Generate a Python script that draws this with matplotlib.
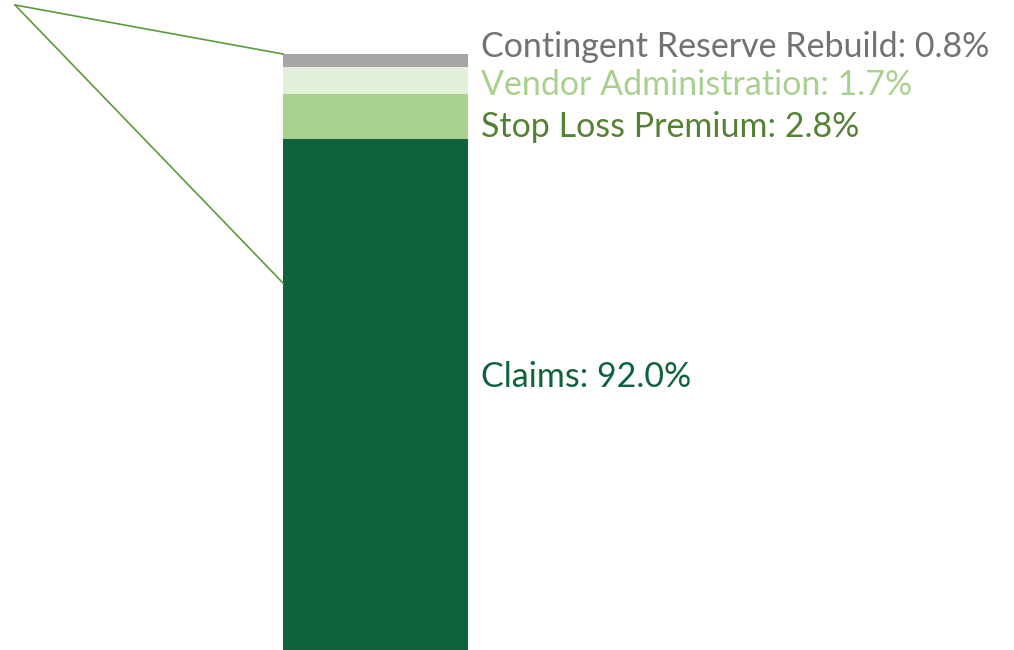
import matplotlib
matplotlib.use("Agg")
import matplotlib.pyplot as plt

categories = ["Claims", "Stop Loss Premium", "Vendor Administration", "Contingent Reserve Rebuild"]
values = [92.0, 2.8, 1.7, 0.8]
bar_colors = ["#0E623C", "#A9D18E", "#E2EFDA", "#A5A5A5"]
text_colors = ["#0E623C", "#548235", "#A9D18E", "#757171"]
label_y = [77.1, 92.74, 95.36, 97.74]  # label anchor positions (layout)

plt.rcParams['font.family'] = ['Lato', 'DejaVu Sans']

fig = plt.figure(figsize=(10.14, 6.5), dpi=100)
ax = fig.add_axes([0, 0, 1, 1])

total = sum(values)
px_per_pct = 16.0
top = total + 54 / px_per_pct
ax.set_ylim(top - 650 / px_per_pct, top)
ax.set_xlim(0, 1014)

bar_x = 375.5
bar_w = 185
bottom = 0
for cat, v, c in zip(categories, values, bar_colors):
    ax.bar(bar_x, v, bottom=bottom, width=bar_w, color=c, edgecolor='none')
    bottom += v

for cat, v, tc, ly in zip(categories, values, text_colors, label_y):
    ax.text(481, ly, f"{cat}: {v:.1f}%", color=tc, fontsize=24.5,
            ha='left', va='center')

# connector lines (bar-of-pie leader)
apex = (15, top - 5 / px_per_pct)
left_edge = bar_x - bar_w / 2
ax.plot([apex[0], left_edge], [apex[1], total], color="#5B9B3A", lw=1.2)
ax.plot([apex[0], left_edge], [apex[1], total - 229 / px_per_pct], color="#5B9B3A", lw=1.2)

ax.axis('off')
fig.savefig("out.png", dpi=100)
